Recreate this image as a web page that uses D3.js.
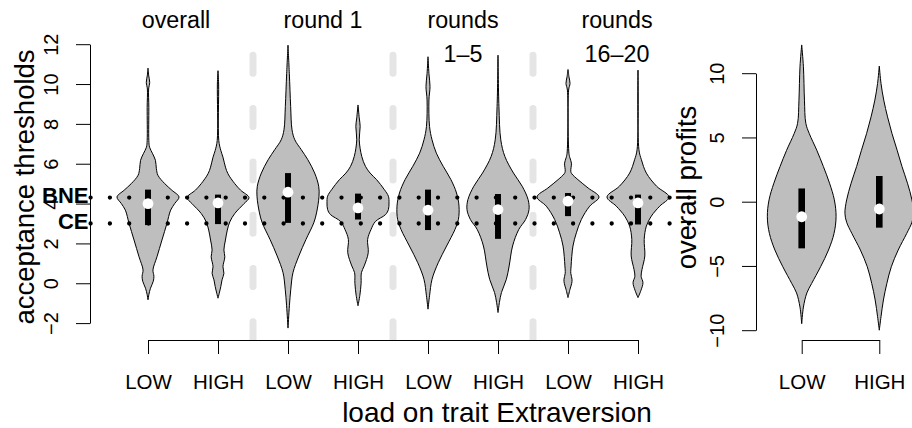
<!DOCTYPE html>
<html><head><meta charset="utf-8">
<script src="https://cdn.jsdelivr.net/npm/d3@7"></script>
<style>
body{margin:0;background:#fff}
svg{display:block}
text{font-family:"Liberation Sans",Arial,Helvetica,sans-serif;fill:#000}
</style>
</head><body>
<svg id="chart" width="912" height="428"></svg>
<script>
// ---------- data ----------
const panelTitles = [["overall"], ["round 1"], ["rounds", "1\u20135"], ["rounds", "16\u201320"]];
const panelTitleAt = [1.4, 3.5, 5.5, 7.7];
const loadLevels = ["LOW", "HIGH", "LOW", "HIGH", "LOW", "HIGH", "LOW", "HIGH"];
const profitLevels = ["LOW", "HIGH"];
const thrTicks = [-2, 0, 2, 4, 6, 8, 10, 12];
const profTicks = [-10, -5, 0, 5, 10];
const refLines = [{label: "BNE", value: 4.3}, {label: "CE", value: 3.0}];
const separators = [2.5, 4.5, 6.5];

// density outlines: [value, relative half-width]
const densOverallLow = [[-0.83,0],[-0.55,0.03],[-0.25,0.08],[0.1,0.17],[0.35,0.19],[0.67,0.16],[1.33,0.29],[2.17,0.45],[3.0,0.61],[3.67,0.73],[4.0,0.86],[4.33,1.0],[4.67,0.77],[5.0,0.54],[5.42,0.32],[5.75,0.27],[6.17,0.24],[6.5,0.15],[6.83,0.05],[7.17,0.027],[8.83,0.027],[9.75,0.02],[10.08,0.055],[10.45,0.02],[10.8,0]];
const densOverallHigh = [[-0.75,0],[-0.5,0.04],[-0.17,0.09],[0.17,0.13],[0.5,0.19],[0.83,0.16],[1.33,0.22],[1.67,0.19],[2.17,0.24],[2.67,0.3],[3.08,0.38],[3.5,0.54],[4.0,0.84],[4.3,1.0],[4.67,0.73],[5.0,0.54],[5.5,0.32],[5.83,0.24],[6.33,0.16],[6.67,0.09],[7.17,0.025],[10.0,0.02],[10.67,0]];
const densRound1Low = [[-2.25,0],[-1.13,0.045],[-0.3,0.09],[0.53,0.16],[1.37,0.35],[2.2,0.58],[3.03,0.83],[3.53,0.92],[4.37,1.0],[4.87,0.99],[5.53,0.86],[6.2,0.64],[6.7,0.43],[7.2,0.22],[7.7,0.13],[8.87,0.086],[10.53,0.043],[11.95,0]];
const densRound1High = [[-1.13,0],[-0.6,0.06],[0.0,0.1],[0.53,0.11],[0.87,0.2],[1.53,0.33],[2.2,0.31],[2.7,0.42],[3.1,0.56],[3.45,0.89],[3.7,0.98],[4.03,1.0],[4.37,0.98],[4.7,0.85],[5.2,0.6],[5.53,0.39],[5.87,0.24],[6.37,0.12],[7.2,0.04],[7.87,0.07],[8.3,0.04],[8.95,0]];
const densRounds15Low = [[-1.3,0],[-0.63,0.05],[0.2,0.13],[1.03,0.33],[1.87,0.6],[2.7,0.87],[3.2,0.98],[3.87,1.0],[4.53,0.92],[5.2,0.74],[5.87,0.49],[6.53,0.27],[7.2,0.13],[7.87,0.05],[9.2,0.03],[9.87,0.065],[10.53,0.03],[11.37,0]];
const densRounds15High = [[-1.47,0],[-0.97,0.045],[-0.47,0.11],[0.2,0.27],[0.87,0.36],[1.87,0.47],[2.7,0.67],[3.2,0.89],[3.7,1.0],[4.2,0.97],[4.87,0.78],[5.53,0.5],[6.37,0.22],[7.2,0.09],[8.87,0.03],[11.45,0]];
const densRounds1620Low = [[-0.72,0],[-0.3,0.065],[0.0,0.12],[0.2,0.13],[0.5,0.09],[0.87,0.1],[1.87,0.16],[2.53,0.27],[3.2,0.43],[3.87,0.7],[4.33,1.0],[4.78,0.65],[5.2,0.32],[5.5,0.12],[5.62,0.09],[6.03,0.11],[6.3,0.06],[6.53,0.03],[9.7,0.02],[10.03,0.065],[10.37,0.03],[10.73,0]];
const densRounds1620High = [[-0.72,0],[-0.38,0.09],[0.03,0.16],[0.35,0.1],[0.7,0.13],[1.37,0.22],[2.2,0.2],[2.87,0.27],[3.37,0.43],[3.87,0.7],[4.33,1.0],[4.87,0.6],[5.53,0.27],[6.2,0.11],[6.7,0.03],[10.7,0]];
const densProfitLow = [[-9.5,0],[-8.2,0.05],[-7.1,0.15],[-6.36,0.29],[-5.06,0.55],[-3.76,0.78],[-2.47,0.94],[-1.17,1.0],[0.14,0.95],[1.44,0.81],[2.74,0.63],[4.0,0.44],[5.3,0.22],[6.1,0.12],[7.9,0.08],[10.5,0.05],[12.2,0]];
const densProfitHigh = [[-10,0],[-8.95,0.05],[-7.65,0.12],[-6.36,0.22],[-5.06,0.35],[-3.76,0.55],[-2.46,0.8],[-1.6,0.95],[-0.9,1.0],[0.14,0.95],[1.44,0.82],[2.74,0.66],[4.0,0.52],[5.3,0.37],[6.6,0.24],[7.9,0.13],[9.2,0.05],[10.56,0]];

const thrQ1  = [2.92, 2.97, 3.03, 3.2, 2.67, 2.23, 3.37, 2.95];
const thrMed = [4.0, 4.03, 4.57, 3.78, 3.67, 3.7, 4.12, 4.03];
const thrQ3  = [4.7, 4.45, 5.53, 4.5, 4.7, 4.48, 4.53, 4.45];
const profQ1  = [-3.63, -2.02];
const profMed = [-1.17, -0.57];
const profQ3  = [1.03, 2.0];

const thrDens = [densOverallLow, densOverallHigh, densRound1Low, densRound1High, densRounds15Low, densRounds15High, densRounds1620Low, densRounds1620High];
const profDens = [densProfitLow, densProfitHigh];

// ---------- drawing ----------
const svg = d3.select("#chart");
const FONT = '"Liberation Sans",Arial,Helvetica,sans-serif';
const plotTop = 33, plotBottom = 340.7;

const xL = d3.scaleLinear().domain([0.18, 8.82]).range([90.6, 695.4]);
const yL = d3.scaleLinear().domain([-2, 12]).range([323.1, 44.2]);
const xR = d3.scaleLinear().domain([0.42, 2.58]).range([756.7, 924.3]);
const yR = d3.scaleLinear().domain([-10, 10]).range([330.2, 73.2]);

const halfMax = 0.443, barW = 0.085, medR = 5.4;

svg.append("defs").append("clipPath").attr("id", "clipL")
  .append("rect").attr("x", xL(0.18)).attr("y", plotTop)
  .attr("width", xL(8.82) - xL(0.18)).attr("height", plotBottom - plotTop);

// grey separators (dashed, from bottom upward)
svg.append("g").attr("clip-path", "url(#clipL)")
  .selectAll("line").data(separators).join("line")
  .attr("x1", d => xL(d)).attr("x2", d => xL(d))
  .attr("y1", 339.8).attr("y2", plotTop)
  .attr("stroke", "#e5e5e5").attr("stroke-width", 7)
  .attr("stroke-linecap", "round").attr("stroke-dasharray", "18 35.3");

function violins(g, dens, q1, med, q3, xs, ys) {
  dens.forEach((d, i) => {
    const xc = i + 1;
    const area = d3.area()
      .curve(d3.curveCatmullRom.alpha(0.5))
      .y(p => ys(p[0]))
      .x0(p => xs(xc - halfMax * p[1]))
      .x1(p => xs(xc + halfMax * p[1]));
    g.append("path").attr("d", area(d))
      .attr("fill", "#bebebe").attr("stroke", "#000").attr("stroke-width", 1);
  });
  return () => {
    g.selectAll("rect.box").data(q1).join("rect").attr("class", "box")
      .attr("x", (d, i) => xs(i + 1 - barW / 2))
      .attr("width", (d, i) => xs(i + 1 + barW / 2) - xs(i + 1 - barW / 2))
      .attr("y", (d, i) => ys(q3[i]))
      .attr("height", (d, i) => ys(q1[i]) - ys(q3[i]))
      .attr("fill", "#000");
    g.selectAll("circle.med").data(med).join("circle").attr("class", "med")
      .attr("cx", (d, i) => xs(i + 1)).attr("cy", d => ys(d))
      .attr("r", medR).attr("fill", "#fff");
  };
}

const gL = svg.append("g");
const boxesL = violins(gL, thrDens, thrQ1, thrMed, thrQ3, xL, yL);
// reference lines
gL.selectAll("line.ref").data(refLines).join("line").attr("class", "ref")
  .attr("x1", xL(0.18)).attr("x2", xL(8.82))
  .attr("y1", d => yL(d.value)).attr("y2", d => yL(d.value))
  .attr("stroke", "#000").attr("stroke-width", 4.3)
  .attr("stroke-linecap", "round").attr("stroke-dasharray", "0 19.3");
boxesL();

const gR = svg.append("g");
const boxesR = violins(gR, profDens, profQ1, profMed, profQ3, xR, yR);
boxesR();

// reference labels
svg.selectAll("text.ref").data(refLines).join("text").attr("class", "ref")
  .attr("x", 88.5).attr("y", d => yL(d.value) + 5.5)
  .attr("text-anchor", "end").attr("font-weight", "bold").attr("font-size", 22)
  .text(d => d.label);

// y axes
function yAxis(scale, ticks, x) {
  const g = svg.append("g").attr("transform", `translate(${x},0)`)
    .call(d3.axisLeft(scale).tickValues(ticks).tickSize(14).tickSizeOuter(0));
  g.attr("font-family", FONT).attr("font-size", 20);
  g.selectAll("text").attr("x", 0).attr("dy", "0.35em")
    .attr("text-anchor", "middle")
    .attr("transform", "translate(-39,0) rotate(-90)");
  return g;
}
yAxis(yL, thrTicks, 90);
yAxis(yR, profTicks, 756);

// x axes
function xAxis(scale, n, labels) {
  const s = d3.scaleLinear().domain([1, n]).range([scale(1), scale(n)]);
  const g = svg.append("g").attr("transform", `translate(0,${340})`)
    .call(d3.axisBottom(s).tickValues(d3.range(1, n + 1)).tickSize(14).tickSizeOuter(0)
      .tickFormat(d => labels[d - 1]));
  g.attr("font-family", FONT).attr("font-size", 20.5);
  g.selectAll("text").attr("y", 49).attr("dy", 0);
}
xAxis(xL, 8, loadLevels);
xAxis(xR, 2, profitLevels);

// panel titles
panelTitles.forEach((lines, i) => {
  lines.forEach((t, j) => {
    svg.append("text").attr("x", xL(panelTitleAt[i])).attr("y", 27.5 + j * 34)
      .attr("text-anchor", "middle").attr("font-size", 23.3).text(t);
  });
});

// axis titles
svg.append("text").attr("transform", "translate(33.5,187) rotate(-90)")
  .attr("text-anchor", "middle").attr("font-size", 27.5).text("acceptance thresholds");
svg.append("text").attr("transform", "translate(695.5,187.5) rotate(-90)")
  .attr("text-anchor", "middle").attr("font-size", 27.5).text("overall profits");
svg.append("text").attr("x", 497).attr("y", 422.3)
  .attr("text-anchor", "middle").attr("font-size", 28).text("load on trait Extraversion");
</script>
</body></html>
